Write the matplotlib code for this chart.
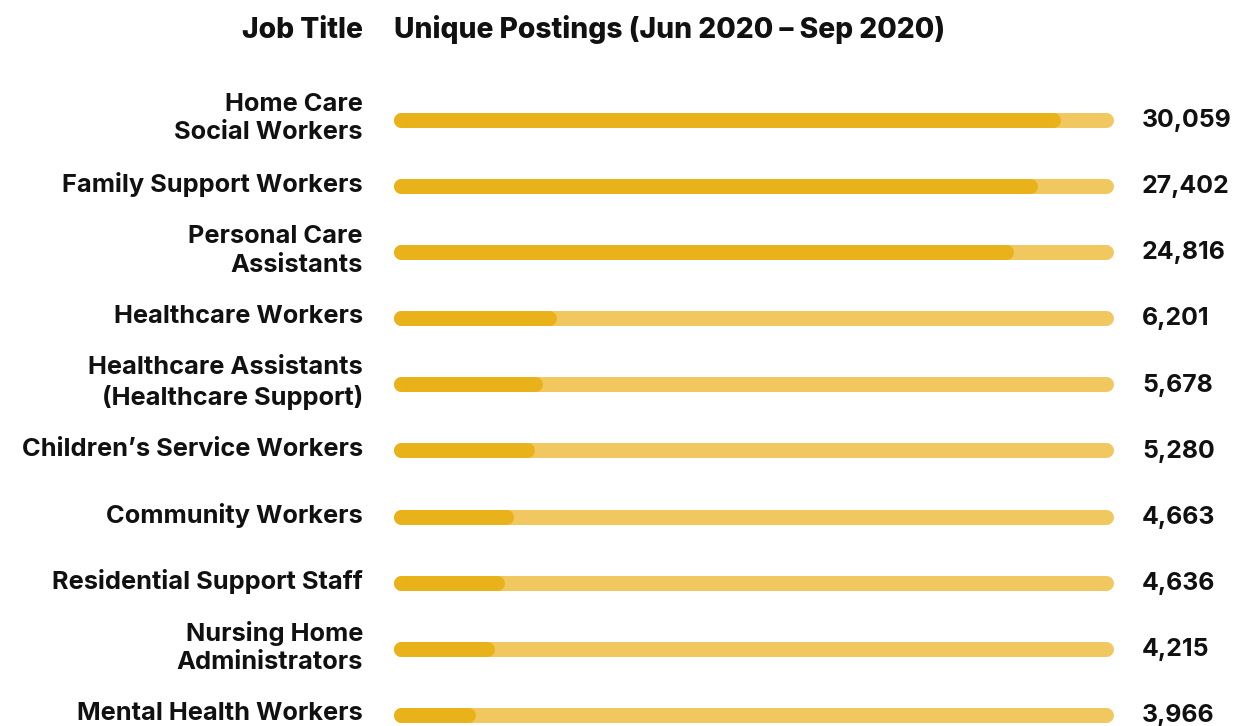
import matplotlib
matplotlib.use("Agg")
import matplotlib.pyplot as plt
from matplotlib.transforms import blended_transform_factory

plt.rcParams['font.family'] = ['Inter', 'DejaVu Sans']

job_titles = [
    "Home Care\nSocial Workers",
    "Family Support Workers",
    "Personal Care\nAssistants",
    "Healthcare Workers",
    "Healthcare Assistants\n(Healthcare Support)",
    "Children\u2019s Service Workers",
    "Community Workers",
    "Residential Support Staff",
    "Nursing Home\nAdministrators",
    "Mental Health Workers",
]
postings = [30059, 27402, 24816, 6201, 5678, 5280, 4663, 4636, 4215, 3966]
# filled share of each track (percent)
fill_pct = [92.6, 89.3, 85.8, 20.9, 19.0, 17.8, 14.8, 13.6, 12.1, 9.4]

header_left = "Job Title"
header_right = "Unique Postings (Jun 2020 \u2013 Sep 2020)"

DARK = "#EAB21A"
LIGHT = "#F0C85F"

W, H = 1233, 726
fig = plt.figure(figsize=(W / 100, H / 100), dpi=100)
fig.patch.set_facecolor("white")

row = 66.1
top_px = 120 - row / 2
bot_px = top_px + row * len(job_titles)
left_px, right_px = 401.5, 1105.5
ax = fig.add_axes([left_px / W, 1 - bot_px / H, (right_px - left_px) / W, (bot_px - top_px) / H])
ax.set_xlim(0, 100)
ax.set_ylim(len(job_titles) - 0.5, -0.5)
ax.axis("off")

lw = 15 * 72 / 100
for i, (f, v) in enumerate(zip(fill_pct, postings)):
    ax.plot([0, 100], [i, i], color=LIGHT, lw=lw, solid_capstyle="round", clip_on=False, zorder=1)
    ax.plot([0, f], [i, i], color=DARK, lw=lw, solid_capstyle="round", clip_on=False, zorder=2)

tr = blended_transform_factory(fig.transFigure, ax.transData)
for i, (lab, v) in enumerate(zip(job_titles, postings)):
    ax.text(363 / W, i - 0.02, lab, transform=tr, ha="right", va="center",
            fontsize=18.3, fontweight="bold", color="#111111", linespacing=1.3, clip_on=False)
    ax.text(1142 / W, i + 0.01, f"{v:,}", transform=tr, ha="left", va="center",
            fontsize=17.9, fontweight="bold", color="#111111", clip_on=False)

fig.text(363 / W, 1 - 30 / H, header_left, ha="right", va="center",
         fontsize=20.3, fontweight="extra bold", color="#111111")
fig.text(394 / W, 1 - 30 / H, header_right, ha="left", va="center",
         fontsize=20.3, fontweight="extra bold", color="#111111")

fig.savefig("out.png", dpi=100, facecolor="white")
